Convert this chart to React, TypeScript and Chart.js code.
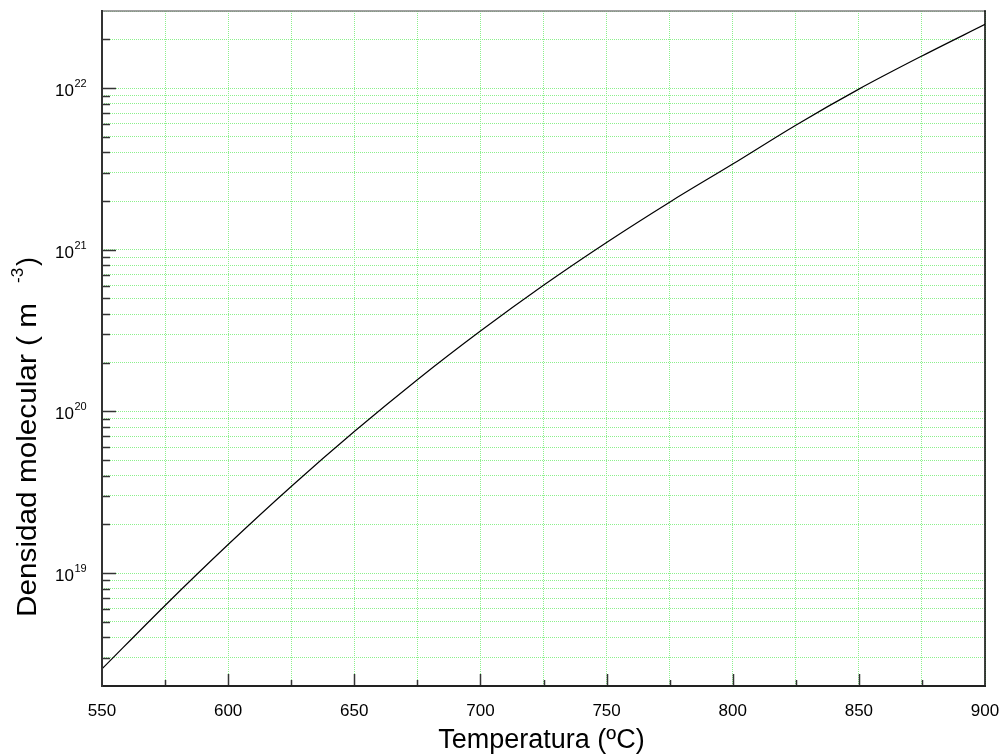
import React, { useEffect, useRef } from "react";
import { Chart, registerables } from "chart.js";

Chart.register(...registerables);

// Temperature (ºC) and molecular density (m^-3)
const temperatures = [550, 575, 600, 625, 650, 675, 700, 725, 750, 775, 800, 825, 850, 875, 900];
const densities = [
  2.55e18, 6.3e18, 1.5e19, 3.43e19, 7.5e19, 1.57e20, 3.14e20, 6.03e20,
  1.11e21, 1.97e21, 3.39e21, 5.9e21, 9.86e21, 1.58e22, 2.48e22,
];
const xMin = 550;
const xMax = 900;
const xStep = 25;
const xLabelStep = 50;
const yMin = 2e18;
const yMax = 3e22;
const yDecades = [18, 19, 20, 21, 22];
const yMultipliers = [1, 2, 3, 4, 5, 6, 7, 8, 9];
const xTitle = "Temperatura (ºC)";
const yTitleMain = "Densidad molecular ( m";
const yTitleSup = "-3";
const yTitleEnd = ")";

const FONT = '"Liberation Sans", Arial, Helvetica, sans-serif';
const GRID = "rgb(140,240,140)";

const framePlugin = {
  id: "framePlugin",
  afterDraw(chart: any) {
    const { ctx, chartArea: a, scales } = chart;
    const xs = scales.x;
    const ys = scales.y;
    ctx.save();

    // tick marks (inside)
    ctx.strokeStyle = "#333";
    ctx.lineWidth = 1.5;
    xs.ticks.forEach((t: any) => {
      const px = Math.round(xs.getPixelForValue(t.value)) + 0.5;
      const major = Math.abs(t.value % xLabelStep) < 1e-9;
      if (t.value === xMin || t.value === xMax) return;
      ctx.beginPath();
      ctx.moveTo(px, a.bottom);
      ctx.lineTo(px, a.bottom - (major ? 12 : 6));
      ctx.stroke();
    });
    ys.ticks.forEach((t: any) => {
      const py = Math.round(ys.getPixelForValue(t.value)) + 0.5;
      const lg = Math.log10(t.value);
      const major = Math.abs(lg - Math.round(lg)) < 1e-6;
      if (py >= a.bottom - 1 || py <= a.top + 1) return;
      ctx.beginPath();
      ctx.moveTo(a.left, py);
      ctx.lineTo(a.left + (major ? 14 : 8), py);
      ctx.stroke();
    });

    // frame
    ctx.lineCap = "square";
    ctx.strokeStyle = "#808080";
    ctx.lineWidth = 1.5;
    ctx.beginPath();
    ctx.moveTo(a.left, a.top);
    ctx.lineTo(a.right, a.top);
    ctx.stroke();
    ctx.strokeStyle = "#000";
    ctx.lineWidth = 1.5;
    ctx.beginPath();
    ctx.moveTo(a.right, a.top);
    ctx.lineTo(a.right, a.bottom);
    ctx.stroke();
    ctx.strokeStyle = "#222";
    ctx.lineWidth = 2;
    ctx.beginPath();
    ctx.moveTo(a.left, a.bottom);
    ctx.lineTo(a.right, a.bottom);
    ctx.stroke();
    ctx.strokeStyle = "#333";
    ctx.beginPath();
    ctx.moveTo(a.left, a.top);
    ctx.lineTo(a.left, a.bottom);
    ctx.stroke();

    // x tick labels
    ctx.fillStyle = "#000";
    ctx.font = `17px ${FONT}`;
    ctx.textAlign = "center";
    ctx.textBaseline = "alphabetic";
    xs.ticks.forEach((t: any) => {
      if (Math.abs(t.value % xLabelStep) > 1e-9) return;
      const px = xs.getPixelForValue(t.value);
      ctx.fillText(String(t.value), px, a.bottom + 30);
    });

    // y tick labels 10^n
    ys.ticks.forEach((t: any) => {
      const lg = Math.log10(t.value);
      if (Math.abs(lg - Math.round(lg)) > 1e-6) return;
      const py = ys.getPixelForValue(t.value);
      ctx.font = `17px ${FONT}`;
      ctx.textAlign = "right";
      ctx.fillText("10", a.left - 28, py + 8);
      ctx.font = `11px ${FONT}`;
      ctx.textAlign = "left";
      ctx.fillText(String(Math.round(lg)), a.left - 27.5, py - 1);
    });

    // x title
    ctx.font = `27px ${FONT}`;
    ctx.textAlign = "center";
    ctx.fillText(xTitle, (a.left + a.right) / 2 - 2, 748);

    // y title (rotated)
    ctx.save();
    ctx.translate(36, 617);
    ctx.rotate(-Math.PI / 2);
    ctx.textAlign = "left";
    ctx.font = `27px ${FONT}`;
    const w = ctx.measureText(yTitleMain).width;
    const s = 314 / w;
    ctx.save();
    ctx.scale(s, 1);
    ctx.fillText(yTitleMain, 0, 0);
    ctx.restore();
    ctx.font = `17px ${FONT}`;
    ctx.fillText(yTitleSup, 334, -13);
    ctx.font = `27px ${FONT}`;
    ctx.fillText(yTitleEnd, 351, 0);
    ctx.restore();

    ctx.restore();
  },
};

export default function App() {
  const ref = useRef<HTMLCanvasElement | null>(null);

  useEffect(() => {
    if (!ref.current) return;
    const chart = new Chart(ref.current, {
      type: "line",
      data: {
        datasets: [
          {
            data: temperatures.map((t, i) => ({ x: t, y: densities[i] })),
            borderColor: "#000",
            borderWidth: 1.2,
            pointRadius: 0,
            fill: false,
            cubicInterpolationMode: "monotone",
          },
        ],
      },
      options: {
        animation: false,
        responsive: false,
        devicePixelRatio: 1,
        layout: { padding: { top: 11, right: 17, left: 0, bottom: 0 } },
        plugins: { legend: { display: false }, tooltip: { enabled: false } },
        scales: {
          x: {
            type: "linear",
            min: xMin,
            max: xMax,
            ticks: { display: false, stepSize: xStep },
            grid: { color: GRID, lineWidth: 1, drawTicks: false },
            border: { display: false, dash: [1, 1] },
            afterFit: (sc: any) => {
              sc.height = 68;
            },
          },
          y: {
            type: "logarithmic",
            min: yMin,
            max: yMax,
            ticks: { display: false },
            grid: { color: GRID, lineWidth: 1, drawTicks: false },
            border: { display: false, dash: [1, 1] },
            afterBuildTicks: (sc: any) => {
              const list: any[] = [];
              yDecades.forEach((d) => {
                yMultipliers.forEach((m) => {
                  const v = Number(`${m}e${d}`);
                  if (v >= yMin * 0.999 && v <= yMax * 1.001) list.push({ value: v, major: m === 1 });
                });
              });
              sc.ticks = list;
            },
            afterFit: (sc: any) => {
              sc.width = 102;
            },
          },
        },
      },
      plugins: [framePlugin],
    } as any);
    return () => chart.destroy();
  }, []);

  return (
    <div style={{ position: "fixed", left: 0, top: 0, width: 1002, height: 754, background: "#fff" }}>
      <canvas ref={ref} width={1002} height={754} />
    </div>
  );
}
